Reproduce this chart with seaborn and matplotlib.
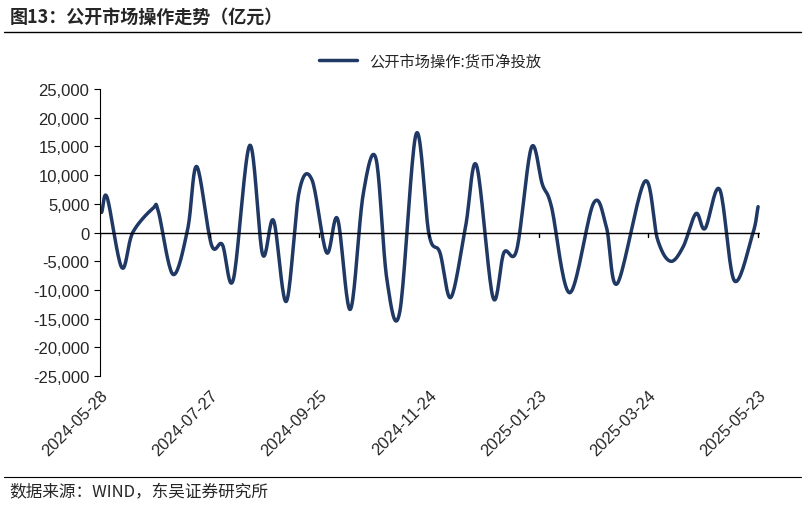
import numpy as np
import pandas as pd
import matplotlib
matplotlib.use("Agg")
import matplotlib.pyplot as plt
import seaborn as sns

# days since 2024-05-28 and net injection (亿元)
days = [1, 4, 12, 18, 29, 32, 40, 48, 53, 61, 67, 73, 82, 89, 95, 102, 109, 116,
        124, 130, 137, 144, 151, 157, 164, 173, 180, 186, 192, 200, 206, 215, 221,
        228, 236, 242, 247, 257, 270, 277, 283, 298, 305, 312, 319, 326, 331, 339,
        347, 357, 360]
values = [3500, 6100, -6100, 0, 4200, 3700, -7300, 500, 11500, -2100, -2100, -8200,
          15200, -3800, 2100, -12000, 7100, 9200, -3500, 2400, -13400, 6600, 12900,
          -8200, -13900, 17200, -300, -3500, -11300, 1000, 11700, -11300, -3500,
          -3000, 14800, 8400, 4500, -10500, 5100, 1000, -8900, 8900, -1200, -5000,
          -2500, 3300, 700, 7500, -8400, -300, 4500]
tick_days = [0, 60, 120, 180, 240, 300, 360]
y_ticks = list(range(-25000, 25001, 5000))
series_name = "公开市场操作:货币净投放"


def catmull_rom(x, y, n=20):
    # smooth curve through the points (like Excel's smoothed line)
    x = np.asarray(x, float)
    y = np.asarray(y, float)
    px = np.concatenate([[2 * x[0] - x[1]], x, [2 * x[-1] - x[-2]]])
    py = np.concatenate([[2 * y[0] - y[1]], y, [2 * y[-1] - y[-2]]])
    t = np.linspace(0, 1, n, endpoint=False)
    xs, ys = [], []
    for i in range(1, len(px) - 2):
        for p, out in ((px, xs), (py, ys)):
            p0, p1, p2, p3 = p[i - 1], p[i], p[i + 1], p[i + 2]
            out.append(0.5 * (2 * p1 + (-p0 + p2) * t
                              + (2 * p0 - 5 * p1 + 4 * p2 - p3) * t ** 2
                              + (-p0 + 3 * p1 - 3 * p2 + p3) * t ** 3))
    xs.append([x[-1]])
    ys.append([y[-1]])
    return np.concatenate(xs), np.concatenate(ys)


sx, sy = catmull_rom(days, values)
df = pd.DataFrame({"day": sx, "value": sy})

sns.set_style("white")
plt.rcParams["font.family"] = ["Liberation Sans", "Noto Sans CJK SC", "DejaVu Sans"]

fig = plt.figure(figsize=(8.05, 5.06), dpi=100)
ax = fig.add_axes([0.124, 0.255, 0.82, 0.567])
sns.lineplot(data=df, x="day", y="value", sort=False, color="#1f3864",
             linewidth=2.5, label=series_name, ax=ax)

ax.set_xlim(0, 361)
ax.set_ylim(-25000, 25000)
ax.set_yticks(y_ticks)
ax.set_yticklabels([f"{v:,}" for v in y_ticks], fontsize=12)
ax.set_xticks(tick_days)
start = pd.Timestamp("2024-05-28")
ax.set_xticklabels([(start + pd.Timedelta(days=d)).strftime("%Y-%m-%d") for d in tick_days],
                   rotation=45, ha="right", rotation_mode="anchor", fontsize=12)
ax.set_xlabel("")
ax.set_ylabel("")
for s in ("top", "right", "bottom"):
    ax.spines[s].set_visible(False)
ax.spines["left"].set_color("black")
ax.spines["left"].set_bounds(-25000, 25000)
ax.axhline(0, color="black", linewidth=1)
ax.tick_params(axis="y", length=4, direction="out", left=True, color="black")
ax.tick_params(axis="x", length=0, pad=8)
for d in tick_days:
    ax.plot([d, d], [0, -700], color="black", linewidth=1)

leg = ax.legend(loc="lower center", bbox_to_anchor=(0.5, 1.02), frameon=False,
                fontsize=11, handlelength=2.5)
for t in leg.get_texts():
    t.set_family(["Noto Sans CJK SC", "DejaVu Sans"])

fig.text(0.012, 0.965, "图13：公开市场操作走势（亿元）", fontsize=13, fontweight="bold",
         family=["Noto Sans CJK SC", "DejaVu Sans"], va="center")
fig.add_artist(plt.Line2D([0.005, 0.995], [0.935, 0.935], color="black", linewidth=1))
fig.add_artist(plt.Line2D([0.005, 0.995], [0.055, 0.055], color="black", linewidth=0.8))
fig.text(0.012, 0.027, "数据来源：WIND，东吴证券研究所", fontsize=12,
         family=["Noto Sans CJK SC", "DejaVu Sans"], va="center")

fig.savefig("out.png", dpi=100)
